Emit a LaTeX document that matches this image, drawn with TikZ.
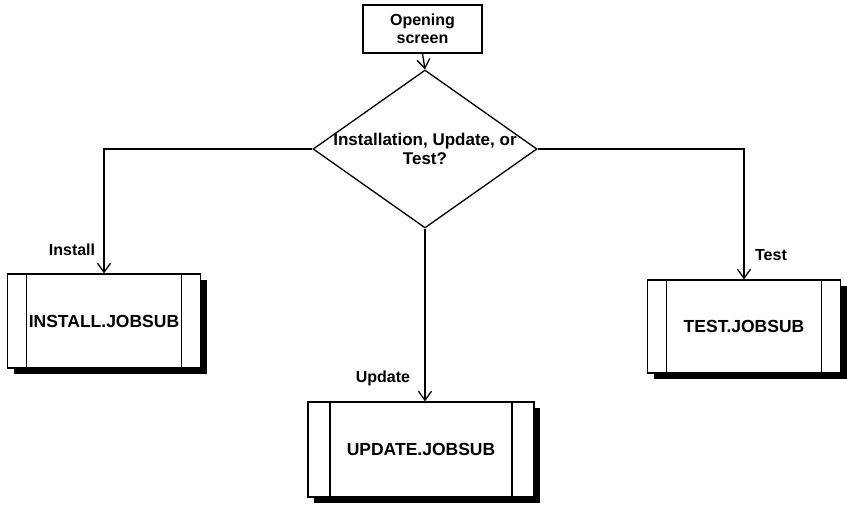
\documentclass[tikz,border=0pt]{standalone}
\usepackage{fontspec}
\setmainfont{Liberation Sans}
\usetikzlibrary{shapes.geometric,arrows.meta,shadows}
\begin{document}
\begin{tikzpicture}[x=1pt,y=1pt,
  every node/.style={font=\bfseries\fontsize{16}{18}\selectfont},
  lin/.style={line width=1.3pt},
  arr/.style={lin,-{Straight Barb[length=9pt,width=13pt,line width=1.3pt]}},
  procbox/.style={draw,lin,fill=white,inner sep=0pt,
    font=\bfseries\fontsize{17.5}{20}\selectfont,
    drop shadow={shadow xshift=6pt,shadow yshift=-6pt,fill=black,opacity=1},
    path picture={
      \draw[lin] ([xshift=#1]path picture bounding box.north west) -- ([xshift=#1]path picture bounding box.south west);
      \draw[lin] ([xshift=-#1]path picture bounding box.north east) -- ([xshift=-#1]path picture bounding box.south east);
    }},
  lab/.style={inner sep=1pt}
]
\useasboundingbox (0,0) rectangle (847,506);
\node[draw,lin,minimum width=119,minimum height=48,inner sep=0pt,align=center] (open) at (422.5,477) {Opening\\screen};
\node[draw,lin,diamond,minimum width=224,minimum height=158,inner sep=0pt] (dec) at (425,357) {};
\node[align=center,font=\bfseries\fontsize{17}{19}\selectfont] (dect) at (dec.center) {Installation, Update, or\\Test?};
\node[procbox=19pt,minimum width=193,minimum height=94] (inst) at (104,185) {INSTALL.JOBSUB};
\node[procbox=22pt,minimum width=226,minimum height=95] (upd) at (421,56.5) {UPDATE.JOBSUB};
\node[procbox=19pt,minimum width=193,minimum height=93] (test) at (744,179.5) {TEST.JOBSUB};
\node[lab] (linst) at (72,256) {Install};
\node[lab] (lupd) at (383,128) {Update};
\node[lab] (ltest) at (771,251) {Test};
\draw[arr] (open.south) -- (dec.north);
\draw[arr] (dec.west) -| (inst.north);
\draw[arr] (dec.south) -- (dec.south |- upd.north);
\draw[arr] (dec.east) -| (test.north);
\end{tikzpicture}
\end{document}
